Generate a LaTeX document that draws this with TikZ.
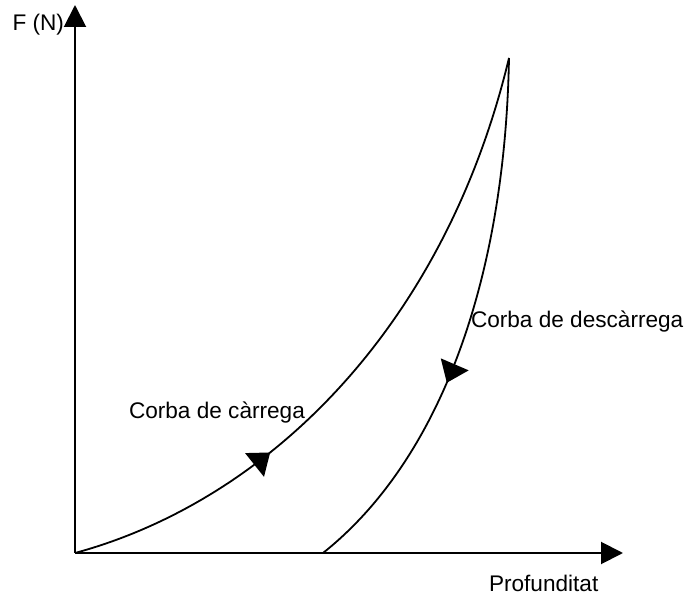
\documentclass[tikz,border=0pt]{standalone}
\usepackage{fontspec}
\setmainfont{Liberation Sans}
\usetikzlibrary{arrows.meta,decorations.markings}

\begin{document}
\begin{tikzpicture}[
    x = 0.5pt,
    y = -0.5pt,
    line width = 1pt,
    every node/.style = {font = \fontsize{11.3}{13}\selectfont, inner sep = 0pt},
    axis/.style = {-{Triangle[length = 11pt, width = 11pt]}},
    curve/.style = {
        line width = 0.9pt,
        postaction = {decorate},
        decoration = {markings,
            mark = at position #1 with {\arrow{Triangle[length = 10pt, width = 15pt]}}}
    }
]

\useasboundingbox (0,0) rectangle (687,599);

% axes
\coordinate (origin) at (75,553);
\coordinate (ytop)   at (75,5);
\coordinate (xend)   at (623,553);
\draw[axis] (origin) -- (ytop);
\draw[axis] (origin) -- (xend);

\node[anchor = east] (force) at (65,25) {F (N)};
\node[anchor = west] (depth) at (488,583) {Profunditat};

% loading and unloading
\coordinate (peak)   at (509,58);
\coordinate (rest)   at (323,553);
\draw[curve = 0.32] (origin) .. controls (270,500) and (445,325) .. (peak);
\draw[curve = 0.61] (peak) .. controls (505,280) and (440,460) .. (rest);

\node[anchor = west] (loading)   at (128,413) {Corba de càrrega};
\node[anchor = west] (unloading) at (470,322) {Corba de descàrrega};

\end{tikzpicture}
\end{document}
